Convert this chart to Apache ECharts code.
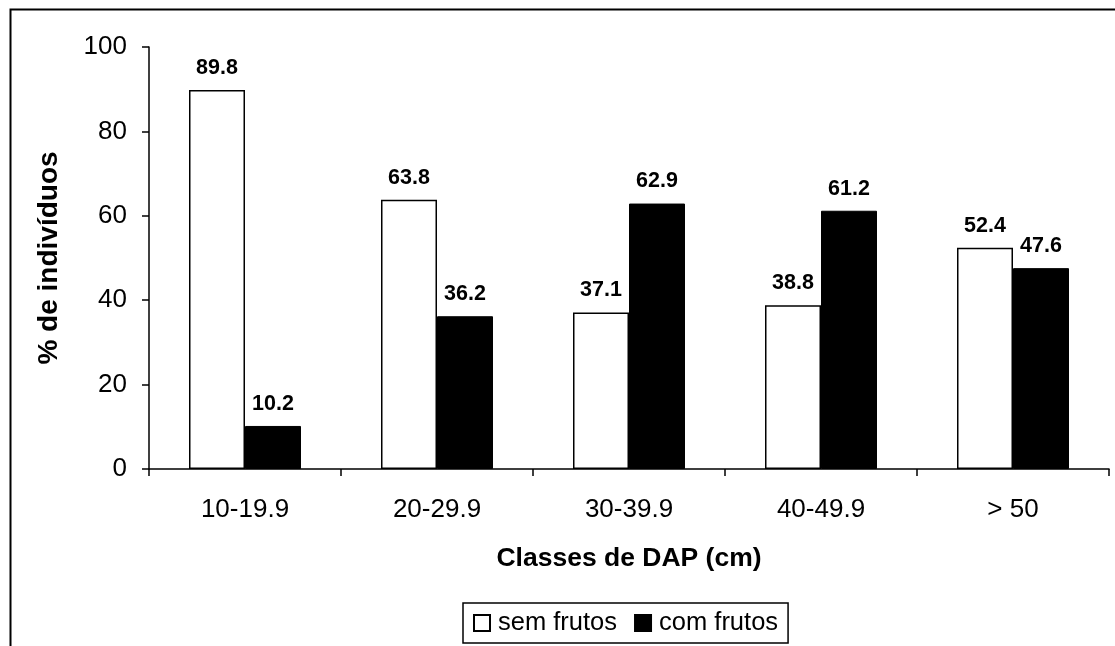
<!DOCTYPE html>
<html>
<head>
<meta charset="utf-8">
<script src="https://cdn.jsdelivr.net/npm/echarts@6/dist/echarts.min.js"></script>
<style>
  html, body { margin: 0; padding: 0; background: #fff; }
  #chart { width: 1115px; height: 646px; }
</style>
</head>
<body>
<div id="chart"></div>
<script>
// dados
const classes = ['10-19.9', '20-29.9', '30-39.9', '40-49.9', '> 50']
const semFrutos = [89.8, 63.8, 37.1, 38.8, 52.4]
const comFrutos = [10.2, 36.2, 62.9, 61.2, 47.6]
const yTicks = [0, 20, 40, 60, 80, 100]

const FONT = '"Liberation Sans", Arial, sans-serif'

const chart = echarts.init(document.getElementById('chart'))

const labelStyle = {
  show: true,
  position: 'top',
  distance: 11,
  color: '#000',
  fontFamily: FONT,
  fontWeight: 'bold',
  fontSize: 21.5,
  formatter: p => p.value.toFixed(1)
}

chart.setOption({
  animation: false,
  backgroundColor: '#fff',
  textStyle: { fontFamily: FONT, color: '#000' },
  // moldura externa (cortada à direita e embaixo)
  graphic: [{
    type: 'rect',
    left: 8,
    top: 7,
    shape: { width: 1200, height: 700 },
    style: { fill: 'none', stroke: '#000', lineWidth: 2 },
    silent: true
  }],
  grid: {
    left: 149,
    top: 47,
    right: 6,
    bottom: 177
  },
  legend: {
    left: 463,
    top: 603,
    padding: [7, 10, 7, 10],
    borderColor: '#000',
    borderWidth: 1.5,
    itemWidth: 16,
    itemHeight: 16,
    itemGap: 17,
    icon: 'rect',
    textStyle: { fontFamily: FONT, fontSize: 25.5, color: '#000', padding: [0, 0, 0, 3] },
    data: ['sem frutos', 'com frutos']
  },
  xAxis: {
    type: 'category',
    data: classes,
    name: 'Classes de DAP (cm)',
    nameLocation: 'middle',
    nameGap: 76,
    nameTextStyle: { fontFamily: FONT, fontSize: 26.5, fontWeight: 'bold', color: '#000' },
    axisLine: { lineStyle: { color: '#000', width: 1.5 } },
    axisTick: { show: true, length: 7, lineStyle: { color: '#000', width: 1.5 } },
    axisLabel: { margin: 28, fontFamily: FONT, fontSize: 26, color: '#000' }
  },
  yAxis: {
    type: 'value',
    min: yTicks[0],
    max: yTicks[yTicks.length - 1],
    interval: 20,
    name: '% de indivíduos',
    nameLocation: 'middle',
    nameGap: 86,
    nameTextStyle: { fontFamily: FONT, fontSize: 28, fontWeight: 'bold', color: '#000' },
    axisLine: { show: true, lineStyle: { color: '#000', width: 1.5 } },
    axisTick: { show: true, length: 7, lineStyle: { color: '#000', width: 1.5 } },
    axisLabel: { margin: 22, fontFamily: FONT, fontSize: 26, color: '#000' },
    splitLine: { show: false }
  },
  series: [
    {
      name: 'sem frutos',
      type: 'bar',
      data: semFrutos,
      barWidth: 56,
      barGap: '0%',
      itemStyle: { color: '#fff', borderColor: '#000', borderWidth: 1.5 },
      label: labelStyle
    },
    {
      name: 'com frutos',
      type: 'bar',
      data: comFrutos,
      barWidth: 56,
      itemStyle: { color: '#000', borderColor: '#000', borderWidth: 1 },
      label: labelStyle
    }
  ]
})
</script>
</body>
</html>
